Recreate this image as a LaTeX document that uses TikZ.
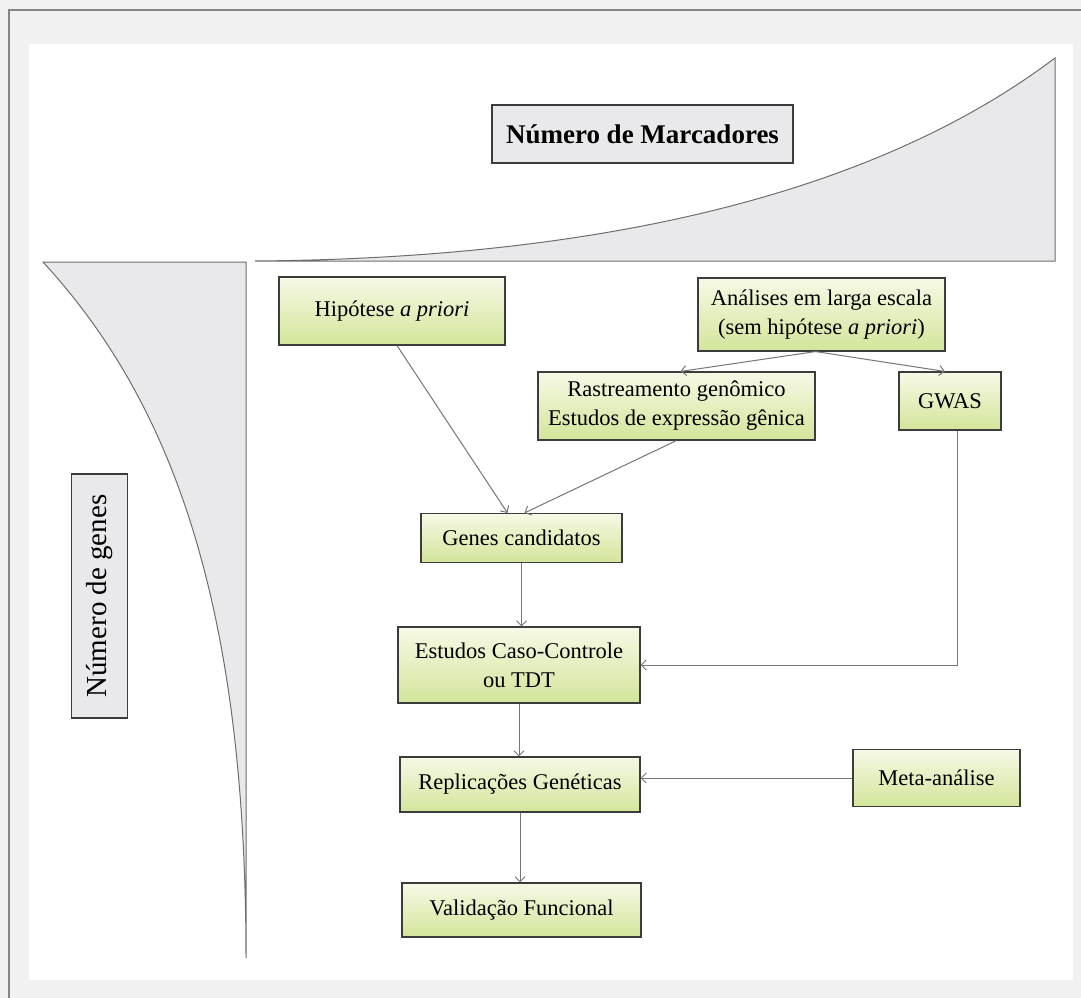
\documentclass[tikz,border=0pt]{standalone}
\usepackage{fontspec}
\setmainfont{Liberation Serif}
\usetikzlibrary{arrows.meta}
\definecolor{bggrey}{HTML}{F1F1F1}
\definecolor{framegrey}{HTML}{858585}
\definecolor{shapefill}{HTML}{E9E9EB}
\definecolor{shapeline}{HTML}{6E6E6E}
\definecolor{boxtop}{HTML}{F6F9E6}
\definecolor{boxbot}{HTML}{D3E59A}
\definecolor{boxline}{HTML}{3C3C3C}
\definecolor{arrowgrey}{HTML}{767676}
\tikzset{
  x=1pt, y=-1pt,
  flowbox/.style={draw=boxline, line width=1.1pt, top color=boxtop, bottom color=boxbot,
    align=center, inner sep=0pt, font=\fontsize{22.5}{29}\selectfont},
  labelbox/.style={draw=boxline, line width=1.1pt, fill=shapefill, inner sep=0pt},
  conn/.style={draw=arrowgrey, line width=1pt, -{Straight Barb[length=5pt,width=10pt]}},
  growth/.style={draw=shapeline, line width=1pt, fill=shapefill}
}
\begin{document}
\begin{tikzpicture}
\useasboundingbox (0,0) rectangle (1081,998);
\fill[bggrey] (0,0) rectangle (1081,998);
\draw[framegrey, line width=1.5pt] (9,998) -- (9,10) -- (1081,10);
\fill[white] (29,44) rectangle (1073,980);

% growth shapes
\draw[growth] (255,261) .. controls (650,258) and (900,175) .. (1055,58) -- (1055,261) -- cycle;
\draw[growth] (43,262) .. controls (170,400) and (246,600) .. (246,958) -- (246,262) -- cycle;

% axis labels
\node[labelbox, minimum width=301, minimum height=58, font=\bfseries\fontsize{27}{31}\selectfont] (marc) at (642.5,134) {Número de Marcadores};
\node[labelbox, minimum width=244, minimum height=56, rotate=90, font=\fontsize{29}{33}\selectfont] (genes) at (99.5,596) {Número de genes};

% flow boxes
\node[flowbox, minimum width=226, minimum height=68] (hip) at (392,311) {Hipótese \textit{a priori}};
\node[flowbox, minimum width=247, minimum height=73] (ana) at (821.5,314.5) {Análises em larga escala\\(sem hipótese \textit{a priori})};
\node[flowbox, minimum width=277, minimum height=68] (rast) at (676.5,406) {Rastreamento genômico\\Estudos de expressão gênica};
\node[flowbox, minimum width=102, minimum height=58] (gwas) at (950,401) {GWAS};
\node[flowbox, minimum width=201, minimum height=49] (gen) at (521.5,538) {Genes candidatos};
\node[flowbox, minimum width=242, minimum height=76] (cc) at (519,665) {Estudos Caso-Controle\\ou TDT};
\node[flowbox, minimum width=240, minimum height=55] (rep) at (520,784.5) {Replicações Genéticas};
\node[flowbox, minimum width=167, minimum height=57] (meta) at (936.5,778) {Meta-análise};
\node[flowbox, minimum width=239, minimum height=54] (val) at (521.5,910) {Validação Funcional};

% connectors
\draw[conn] ([xshift=5]hip.south) -- ([xshift=-14]gen.north);
\draw[conn] (rast.south) -- ([xshift=3]gen.north);
\draw[conn] ([xshift=-6]ana.south) -- ([xshift=4]rast.north);
\draw[conn] ([xshift=-6]ana.south) -- ([xshift=-5]gwas.north);
\draw[conn] (gen.south) -- (gen.south |- cc.north);
\draw[conn] ([xshift=7]gwas.south) |- (cc.east);
\draw[conn] (cc.south) -- (cc.south |- rep.north);
\draw[conn] (meta.west) -- (meta.west -| rep.east);
\draw[conn] (rep.south) -- (rep.south |- val.north);
\end{tikzpicture}
\end{document}
